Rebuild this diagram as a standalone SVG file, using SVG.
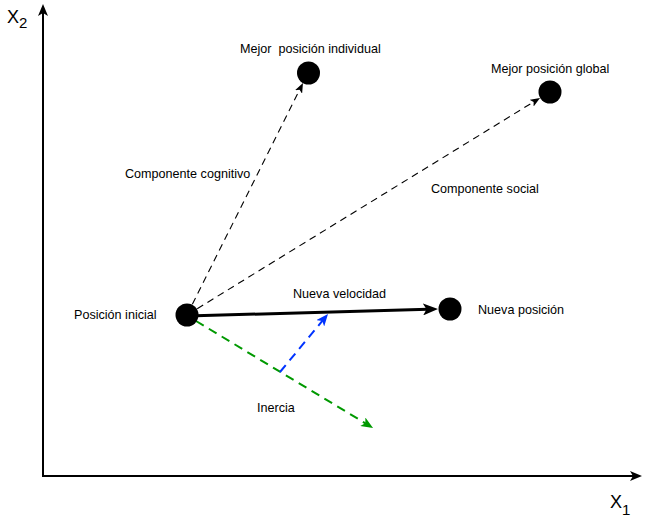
<svg xmlns="http://www.w3.org/2000/svg" width="645" height="523" viewBox="0 0 645 523">
<style>
text{font-family:"Liberation Sans",Arial,sans-serif;fill:#000;}
.lbl{font-size:12.6px;white-space:pre;}
.ax{font-size:18px;}
.sub{font-size:15px;}
.axis{stroke:#000;stroke-width:2;fill:none;}
.dash{stroke:#000;stroke-width:1.1;stroke-dasharray:7 5;fill:none;}
.solid{stroke:#000;stroke-width:3;fill:none;}
.green{stroke:#009900;stroke-width:2;stroke-dasharray:9 6;fill:none;}
.blue{stroke:#0033ff;stroke-width:2;stroke-dasharray:9 6;fill:none;}
.node{fill:#000;}
</style>
<defs>
<marker id="mSmall" markerUnits="userSpaceOnUse" markerWidth="10" markerHeight="8" refX="4" refY="4" orient="auto"><path d="M0,0 L10,4 L0,8 L2.5,4 Z" fill="#000"/></marker>
<marker id="mBig" markerUnits="userSpaceOnUse" markerWidth="15" markerHeight="12" refX="5" refY="6" orient="auto"><path d="M0,0 L15,6 L0,12 L3.5,6 Z" fill="#000"/></marker>
<marker id="mAxis" markerUnits="userSpaceOnUse" markerWidth="12" markerHeight="10" refX="4" refY="5" orient="auto"><path d="M0,0 L12,5 L0,10 L3,5 Z" fill="#000"/></marker>
<marker id="mGreen" markerUnits="userSpaceOnUse" markerWidth="12" markerHeight="10" refX="4" refY="5" orient="auto"><path d="M0,0 L12,5 L0,10 L3,5 Z" fill="#009900"/></marker>
<marker id="mBlue" markerUnits="userSpaceOnUse" markerWidth="12" markerHeight="10" refX="4" refY="5" orient="auto"><path d="M0,0 L12,5 L0,10 L3,5 Z" fill="#0033ff"/></marker>
</defs>
<g id="axes">
<line class="axis" x1="43" y1="477" x2="43" y2="12" marker-end="url(#mAxis)"/>
<line class="axis" x1="42" y1="476" x2="634" y2="476" marker-end="url(#mAxis)"/>
<text class="ax" x="7" y="23">X<tspan class="sub" x="19" y="28">2</tspan></text>
<text class="ax" x="610" y="508">X<tspan class="sub" x="622" y="515">1</tspan></text>
</g>
<g id="connectors">
<line class="dash" x1="187" y1="315" x2="300.3" y2="88.4" marker-end="url(#mSmall)"/>
<line class="dash" x1="187" y1="315" x2="534.9" y2="101.1" marker-end="url(#mSmall)"/>
<line class="green" x1="196" y1="321" x2="366.2" y2="423.8" marker-end="url(#mGreen)"/>
<line class="blue" x1="280" y1="372" x2="322.9" y2="320.2" marker-end="url(#mBlue)"/>
<line class="solid" x1="187" y1="316" x2="428" y2="309.3" marker-end="url(#mBig)"/>
</g>
<g id="posicion-inicial">
<circle class="node" cx="187" cy="315" r="11.5"/>
<text class="lbl" x="74" y="319">Posición inicial</text>
</g>
<g id="mejor-individual">
<circle class="node" cx="308.5" cy="73" r="11.5"/>
<text class="lbl" x="240" y="53" xml:space="preserve">Mejor  posición individual</text>
</g>
<g id="mejor-global">
<circle class="node" cx="550" cy="92" r="11.5"/>
<text class="lbl" x="491" y="73">Mejor posición global</text>
</g>
<g id="nueva-posicion">
<circle class="node" cx="450" cy="309" r="11.5"/>
<text class="lbl" x="478" y="314">Nueva posición</text>
</g>
<g id="labels">
<text class="lbl" x="125" y="178">Componente cognitivo</text>
<text class="lbl" x="431" y="193">Componente social</text>
<text class="lbl" x="293" y="298">Nueva velocidad</text>
<text class="lbl" x="257" y="412">Inercia</text>
</g>
</svg>
